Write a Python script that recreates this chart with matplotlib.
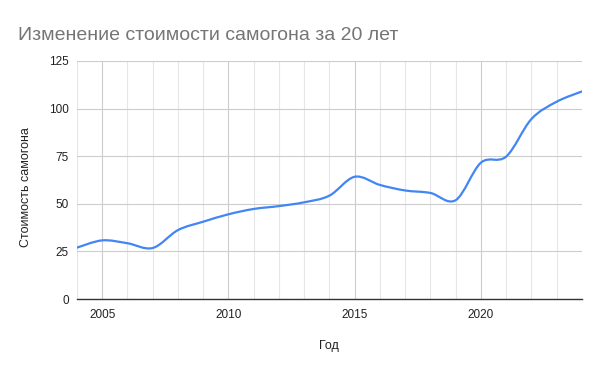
import matplotlib
matplotlib.use("Agg")
import matplotlib.pyplot as plt
from matplotlib.path import Path
from matplotlib.patches import PathPatch
import numpy as np

plt.rcParams['font.family'] = ['Liberation Sans', 'DejaVu Sans']

years = [2004, 2005, 2006, 2007, 2008, 2009, 2010, 2011, 2012, 2013, 2014,
         2015, 2016, 2017, 2018, 2019, 2020, 2021, 2022, 2023, 2024]
prices = [27.0, 30.8, 29.3, 26.8, 36.2, 40.6, 44.5, 47.3, 48.8, 50.8, 54.3,
          64.2, 59.9, 57.0, 55.7, 51.9, 71.6, 74.8, 94.5, 103.6, 109.0]
yticks = [0, 25, 50, 75, 100, 125]
xticks = [2005, 2010, 2015, 2020]

title = "Изменение стоимости самогона за 20 лет"
xlabel = "Год"
ylabel = "Стоимость самогона"

fig = plt.figure(figsize=(6, 3.71), dpi=100)
ax = fig.add_axes([0.1283, 0.194, 0.8415, 0.6416])

# smooth curve through the data (cardinal-spline Bezier segments)
x = np.array(years, dtype=float)
y = np.array(prices, dtype=float)
n = len(x)
t = 0.5
verts = [(x[0], y[0])]
codes = [Path.MOVETO]
for i in range(n - 1):
    x0, y0 = (x[i - 1], y[i - 1]) if i > 0 else (x[i], y[i])
    x3, y3 = (x[i + 2], y[i + 2]) if i + 2 < n else (x[i + 1], y[i + 1])
    c1 = (x[i] + (x[i + 1] - x0) * t / 3, y[i] + (y[i + 1] - y0) * t / 3)
    c2 = (x[i + 1] - (x3 - x[i]) * t / 3, y[i + 1] - (y3 - y[i]) * t / 3)
    verts += [c1, c2, (x[i + 1], y[i + 1])]
    codes += [Path.CURVE4] * 3
ax.add_patch(PathPatch(Path(verts, codes), facecolor='none', edgecolor='#4285F4',
                       lw=1.6, zorder=3, capstyle='round', joinstyle='round'))

ax.set_xlim(2004, 2024)
ax.set_ylim(0, 125)
ax.set_yticks(yticks)
ax.set_xticks(xticks)
ax.set_xticks(years, minor=True)
ax.tick_params(axis='both', which='both', length=0, labelsize=8.5, colors='#222222', pad=6)
ax.tick_params(axis='x', pad=7)
ax.grid(True, which='major', color='#cccccc', lw=0.8, zorder=0)
ax.grid(True, which='minor', axis='x', color='#e6e6e6', lw=0.8, zorder=0)
for s in ['top', 'right', 'left']:
    ax.spines[s].set_visible(False)
ax.spines['bottom'].set_color('#333333')
ax.spines['bottom'].set_linewidth(1.0)

fig.text(18 / 600, 1 - 40 / 371, title, fontsize=14, color='#757575', ha='left', va='baseline')
ax.set_xlabel(xlabel, fontsize=9, color='#222222', labelpad=14)
ax.set_ylabel(ylabel, fontsize=9, color='#222222', va='center', ha='center')
ax.yaxis.set_label_coords(-0.101, 0.47)

fig.savefig("out.png", dpi=100)
